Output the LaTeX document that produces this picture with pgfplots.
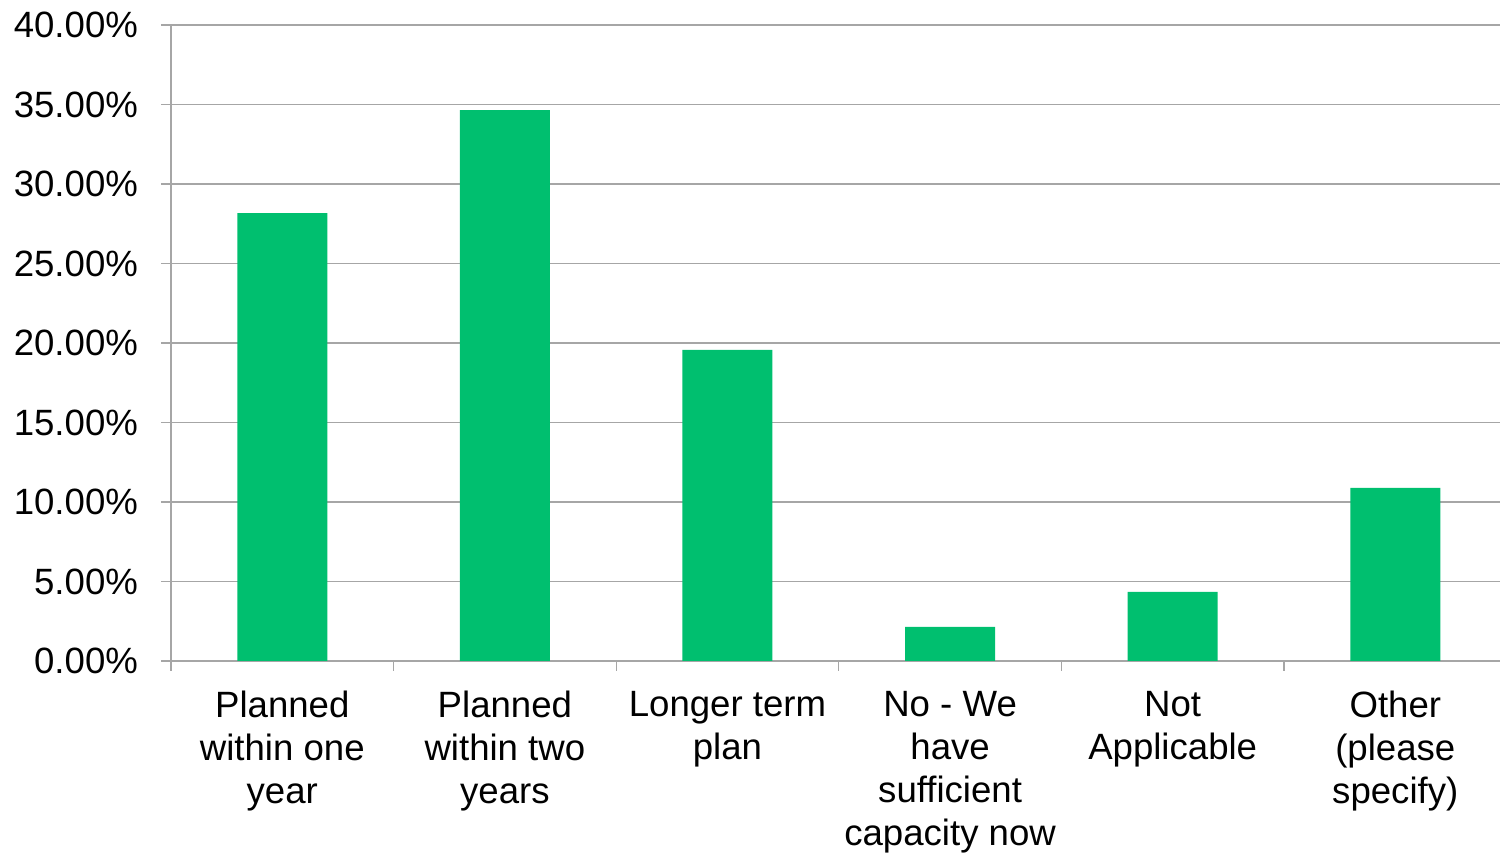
\documentclass[border=0pt]{standalone}
\usepackage{pgfplots}
\pgfplotsset{compat=1.18}
\usepackage{fontspec}
\setmainfont{Liberation Sans}
\definecolor{bargreen}{HTML}{00BF6F}
\definecolor{gridgray}{HTML}{A6A6A6}
\begin{document}
\begin{tikzpicture}
\begin{axis}[
  name=ax,
  scale only axis,
  width=667.8pt, height=318pt,
  ybar, bar width=45pt,
  xmin=-0.5, xmax=5.5,
  ymin=0, ymax=40,
  ytick={0,5,...,40},
  yticklabel={\pgfmathprintnumber[fixed,fixed zerofill,precision=2]{\tick}\%},
  /pgf/number format/assume math mode=true,
  xtick={0,...,5},
  xticklabels={Planned\\within one\\year, Planned\\within two\\years, Longer term\\plan, No - We\\have\\sufficient\\capacity now, Not\\Applicable, Other\\(please\\specify)},
  xticklabel style={align=center, font=\fontsize{18.3}{21.5}\selectfont, yshift=-6.5pt},
  yticklabel style={font=\fontsize{18.3}{21.5}\selectfont, xshift=-8pt},
  major x tick style={draw=none},
  minor xtick={-0.5,0.5,...,4.5},
  minor tick length=5pt,
  major tick length=5pt,
  tick align=outside,
  tick style={gridgray, line width=0.6pt},
  ymajorgrids,
  grid style={gridgray, line width=0.6pt},
  axis x line*=bottom,
  axis y line*=left,
  axis line style={gridgray, line width=0.6pt, -},
]
\addplot[fill=bargreen, draw=none] coordinates {
  (0,28.17) (1,34.65) (2,19.56) (3,2.14) (4,4.34) (5,10.88)
};
\end{axis}
\pgfresetboundingbox
\path[use as bounding box] ([xshift=-85.5pt,yshift=-96.5pt]ax.south west) rectangle ([xshift=664.5pt,yshift=12.5pt]ax.north west);
\end{tikzpicture}
\end{document}
